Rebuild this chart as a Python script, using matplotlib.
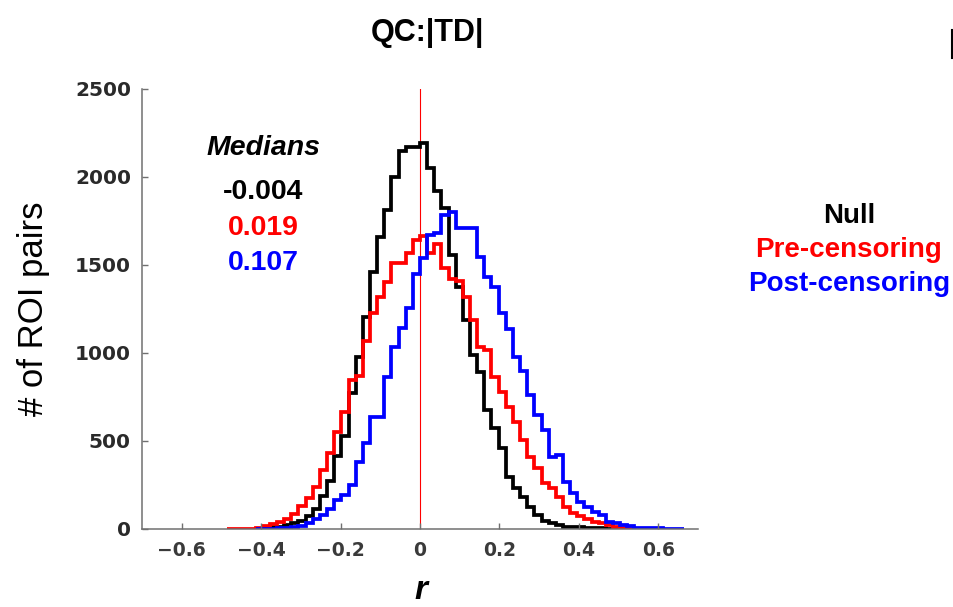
import matplotlib
matplotlib.use("Agg")
import matplotlib.pyplot as plt
from matplotlib.lines import Line2D
import numpy as np

# common bin grid of the three histograms (bin width 0.018)
bin_width = 0.018
bin_edges = np.round(np.arange(-27, 38) * bin_width, 4)

# counts per bin
null_counts = [0, 0, 0, 0, 0, 8, 12, 13, 20, 32,
               48, 74, 114, 185, 270, 412, 530, 772, 977, 1205,
               1462, 1660, 1812, 2002, 2150, 2170, 2172, 2191, 2050, 1922,
               1826, 1555, 1377, 1186, 986, 894, 674, 574, 460, 297,
               233, 184, 127, 80, 47, 36, 23, 13, 12, 11,
               5, 4, 3, 2, 2, 0, 0, 0, 0, 0,
               0, 0, 0, 0]
pre_counts = [0, 0, 1, 2, 8, 19, 28, 42, 55, 85,
              129, 177, 240, 333, 430, 550, 667, 847, 869, 1068,
              1225, 1320, 1405, 1510, 1510, 1566, 1642, 1665, 1566, 1620,
              1485, 1418, 1408, 1320, 1187, 1036, 1017, 865, 780, 695,
              610, 506, 411, 345, 260, 231, 184, 127, 89, 75,
              55, 42, 32, 20, 11, 3, 2, 1, 0, 0,
              0, 0, 0, 0]
post_counts = [0, 0, 0, 0, 0, 1, 2, 3, 5, 9,
               17, 36, 55, 80, 115, 165, 193, 250, 382, 490,
               635, 638, 865, 1036, 1140, 1254, 1451, 1540, 1668, 1680,
               1784, 1803, 1708, 1708, 1708, 1547, 1434, 1377, 1225, 1134,
               979, 900, 761, 648, 563, 411, 420, 269, 203, 155,
               127, 98, 80, 42, 32, 20, 17, 5, 4, 3,
               3, 2, 2, 2]

# first / last+1 bin covered by each histogram
null_span = (5, 55)
pre_span = (0, 58)
post_span = (4, 64)

series_names = ["Null", "Pre-censoring", "Post-censoring"]
series_colors = ["#000000", "#ff0000", "#0000ff"]
medians = [-0.004, 0.019, 0.107]

fig = plt.figure(figsize=(9.54, 6.07), dpi=100)
ax = fig.add_axes([142/954, 1 - 529/607, (698 - 142)/954, 440/607])

for counts, span, c in zip([null_counts, pre_counts, post_counts],
                           [null_span, pre_span, post_span], series_colors):
    a, b = span
    ax.stairs(counts[a:b], bin_edges[a:b + 1], color=c, linewidth=2.7,
              baseline=0)

ax.axvline(0, color="#ff0000", linewidth=0.8, zorder=0)

ax.set_xlim(-0.7, 0.7)
ax.set_ylim(0, 2500)
ax.set_xticks([-0.6, -0.4, -0.2, 0, 0.2, 0.4, 0.6])
ax.set_xticklabels(["\u22120.6", "\u22120.4", "\u22120.2", "0", "0.2", "0.4", "0.6"])
ax.set_yticks(np.arange(0, 2501, 500))

for s in ["top", "right"]:
    ax.spines[s].set_visible(False)
for s in ["left", "bottom"]:
    ax.spines[s].set_color("#707070")
    ax.spines[s].set_linewidth(1.1)

ax.tick_params(axis="both", direction="in", length=4, width=1, color="#707070")
ax.tick_params(axis="x", pad=9)
ax.tick_params(axis="y", pad=8)
for lab in ax.get_xticklabels():
    lab.set_fontfamily("DejaVu Sans")
    lab.set_fontweight("bold")
    lab.set_fontsize(13.5)
    lab.set_color("#3a3a3a")
for lab in ax.get_yticklabels():
    lab.set_fontfamily("DejaVu Sans")
    lab.set_fontweight("bold")
    lab.set_fontsize(14.5)
    lab.set_color("#2a2a2a")

ax.set_ylabel("# of ROI pairs", fontsize=25, family="Liberation Sans",
              labelpad=18)
fig.text(421/954, 0.014, "r", fontsize=24, family="Liberation Sans",
         fontweight="bold", style="italic", ha="center", va="baseline")

fig.text(427/954, 1 - 33/607, "QC:|TD|", fontsize=22, family="Liberation Sans",
         fontweight="bold", ha="center", va="center")

# median block inside the axes
ax.text(0.218, 0.866, "Medians", transform=ax.transAxes, fontsize=20.5,
        family="Liberation Sans", fontweight="bold", style="italic",
        ha="center", va="center")
for i, (m, c) in enumerate(zip(medians, series_colors)):
    ax.text(0.218, [0.766, 0.684, 0.605][i], f"{m:.3f}",
            transform=ax.transAxes, fontsize=20.5, family="Liberation Sans",
            fontweight="bold", color=c, ha="center", va="center")

# series names on the right
for i, (name, c) in enumerate(zip(series_names, series_colors)):
    fig.text(849/954, 1 - [216, 250, 284][i]/607, name, fontsize=20,
             family="Liberation Sans", fontweight="bold", color=c,
             ha="center", va="center")

# edge of the neighbouring panel
fig.add_artist(Line2D([952/954, 952/954], [1 - 30/607, 1 - 58/607],
                      color="black", linewidth=1.5))

fig.savefig("out.png", dpi=100)
